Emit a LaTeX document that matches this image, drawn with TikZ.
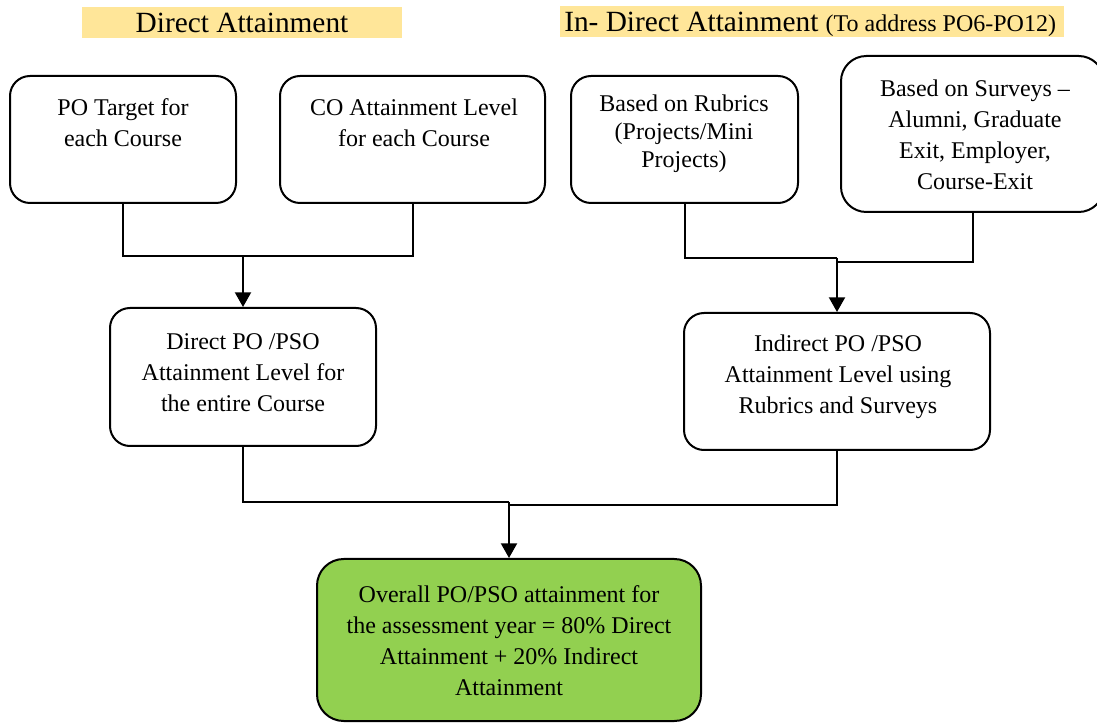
\documentclass[tikz,border=0pt]{standalone}
\usepackage{fontspec}
\setmainfont{Liberation Serif}
\usetikzlibrary{fit,arrows.meta}
\definecolor{bandcol}{HTML}{FFE699}
\definecolor{boxgreen}{HTML}{92D050}
\begin{document}
\begin{tikzpicture}[x=0.75pt,y=-0.75pt,
  boxnode/.style={draw, line width=1.5pt, rounded corners=15pt, inner sep=0pt},
  bandnode/.style={fill=bandcol, inner sep=0pt},
  txt/.style={align=center, font=\fontsize{18}{23.25}\selectfont, inner sep=0pt},
  conn/.style={line width=1.5pt},
  arr/.style={line width=1.5pt, -{Triangle[width=12pt,length=11pt]}}]
\clip (0,0) rectangle (1097,723);
% title bands
\node[bandnode, fit={(82,7)(402,38)}] (band1) {};
\node[bandnode, fit={(560,6)(1064,37)}] (band2) {};
\node[anchor=base, inner sep=0pt, font=\fontsize{22}{26}\selectfont] (t1) at (242,33) {Direct Attainment};
\node[anchor=base west, inner sep=0pt, font=\fontsize{22}{26}\selectfont] (t2) at (564,32) {In- Direct Attainment {\fontsize{18}{22}\selectfont (To address PO6-PO12)}};
% boxes
\node[boxnode, fit={(10,76)(236,203)}] (b1) {};
\node[boxnode, fit={(280,76)(545,203)}] (b2) {};
\node[boxnode, fit={(571,76)(798,203)}] (b3) {};
\node[boxnode, rounded corners=19pt, fit={(841,56)(1104,212)}] (b4) {};
\node[boxnode, fit={(110,308)(376,446)}] (b5) {};
\node[boxnode, fit={(684,313)(990,450)}] (b6) {};
\node[boxnode, fill=boxgreen, rounded corners=20pt, fit={(317,559)(701,721)}] (b7) {};
% texts
\node[txt] (x1) at (123,123) {PO Target for\\each Course};
\node[txt] (x2) at (414,123) {CO Attainment Level\\for each Course};
\node[txt, font=\fontsize{18}{21}\selectfont] (x3) at (684,134) {Based on Rubrics\\(Projects/Mini\\Projects)};
\node[txt] (x4) at (975,135) {Based on Surveys –\\Alumni, Graduate\\Exit, Employer,\\Course-Exit};
\node[txt] (x5) at (243,373) {Direct PO /PSO\\Attainment Level for\\the entire Course};
\node[txt] (x6) at (838,377) {Indirect PO /PSO\\Attainment Level using\\Rubrics and Surveys};
\node[txt] (x7) at (509,641) {Overall PO/PSO attainment for\\the assessment year = 80\% Direct\\Attainment + 20\% Indirect\\Attainment};
% junctions
\coordinate (j1) at (243,256);
\coordinate (j2) at (837,258);
\coordinate (j2b) at (837,262);
\coordinate (j3) at (509,502);
\coordinate (j3b) at (509,505);
% connectors
\draw[conn] (b1.south) |- (j1);
\draw[conn] (b2.south) |- (j1);
\draw[arr] (j1) -- (b5.north);
\draw[conn] (b3.south) |- (j2);
\draw[conn] (b4.south) |- (j2b);
\draw[arr] (j2) -- (b6.north);
\draw[conn] (b5.south) |- (j3);
\draw[conn] (b6.south) |- (j3b);
\draw[arr] (j3) -- (b7.north);
\end{tikzpicture}
\end{document}
